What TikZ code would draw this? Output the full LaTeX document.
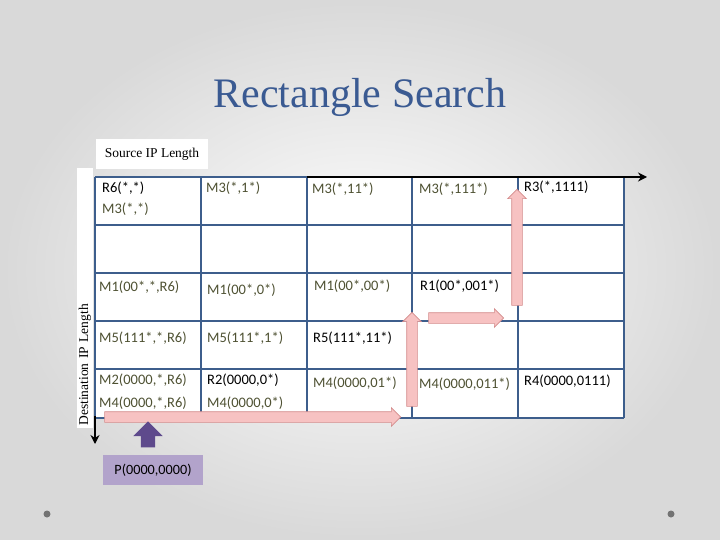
\documentclass[tikz,border=0pt]{standalone}
\usepackage{fontspec}
\setmainfont{Liberation Serif}
\newfontfamily\cellfont{Carlito}
\usetikzlibrary{arrows.meta,shapes.arrows}
\definecolor{TitleBlue}{HTML}{3A5A92}
\definecolor{GridBlue}{HTML}{3D5E8C}
\definecolor{MatchOlive}{HTML}{4F5233}
\definecolor{PathPink}{HTML}{F7C2C2}
\definecolor{PathEdge}{HTML}{D48C8C}
\definecolor{PointPurple}{HTML}{5E4A8C}
\definecolor{PointBg}{HTML}{B2A3CB}

\begin{document}
\begin{tikzpicture}[
        x=1pt, y=-1pt,
        cell/.style={
            anchor=base west,
            inner sep=0pt,
            font=\cellfont\fontsize{14.5}{17}\selectfont
        },
        rule/.style={cell, text=black},
        match/.style={cell, text=MatchOlive},
        gridline/.style={draw=GridBlue, line width=2.4pt},
        axis/.style={-{Stealth[length=9pt,width=9pt]}, line width=1.8pt, draw=black},
        axislabel/.style={fill=white, font=\fontsize{13.5}{16}\selectfont},
        walk/.style={
            single arrow,
            draw=PathEdge,
            fill=PathPink,
            line width=0.6pt,
            inner sep=5pt,
            single arrow head extend=4pt,
            single arrow tip angle=90
        },
        pointer/.style={
            single arrow,
            fill=PointPurple,
            inner sep=7pt,
            single arrow head extend=7.5pt,
            single arrow tip angle=90
        }
    ]
        \useasboundingbox (0,0) rectangle (720,540);
        \shade[inner color=white, outer color=black!15] (0,0) rectangle (720,540);

        \node[font=\fontsize{42}{48}\selectfont, text=TitleBlue] (title) at (360,97)
            {Rectangle Search};

        \node[axislabel, minimum width=112pt, minimum height=30pt] (srclabel) at (152,154)
            {Source IP Length};
        \node[axislabel, rotate=90, text width=255pt, align=left, inner sep=2pt] (dstlabel) at (85,298)
            {Destination IP Length};

        \fill[white] (95,177) rectangle (624,418);
        \foreach \x in {95,201,307,412,518,624}
            \draw[gridline] (\x,177) -- (\x,418);
        \foreach \y in {177,225,273,321,369,418}
            \draw[gridline] (95,\y) -- (624,\y);

        \coordinate (topstart) at (307,177);
        \coordinate (xend) at (647,177);
        \coordinate (leftstart) at (95,416);
        \coordinate (yend) at (95,444);
        \draw[axis] (topstart) -- (xend);
        \draw[axis] (leftstart) -- (yend);

        \node[rule] (c11a) at (102,193) {R6(*,*)};
        \node[match] (c11b) at (102,214) {M3(*,*)};
        \node[match] (c12) at (206,193) {M3(*,1*)};
        \node[match] (c13) at (312,194) {M3(*,11*)};
        \node[match] (c14) at (419,194) {M3(*,111*)};
        \node[rule] (c15) at (524,192) {R3(*,1111)};

        \node[match] (c31) at (99,291) {M1(00*,*,R6)};
        \node[match] (c32) at (207,294) {M1(00*,0*)};
        \node[match] (c33) at (314,290) {M1(00*,00*)};
        \node[rule] (c34) at (420,290) {R1(00*,001*)};

        \node[match] (c41) at (99,342) {M5(111*,*,R6)};
        \node[match] (c42) at (207,342) {M5(111*,1*)};
        \node[rule] (c43) at (313,342) {R5(111*,11*)};

        \node[match] (c51a) at (99,384) {M2(0000,*,R6)};
        \node[match] (c51b) at (99,407) {M4(0000,*,R6)};
        \node[rule] (c52a) at (207,384) {R2(0000,0*)};
        \node[match] (c52b) at (207,407) {M4(0000,0*)};
        \node[match] (c53) at (313,387) {M4(0000,01*)};
        \node[match] (c54) at (419,388) {M4(0000,011*)};
        \node[rule] (c55) at (524,385) {R4(0000,0111)};

        \node[walk, minimum height=296pt] (walk1) at (250,417) {};
        \node[walk, minimum height=94pt, rotate=90] (walk2) at (412,362) {};
        \node[walk, minimum height=75pt] (walk3) at (463.5,318) {};
        \node[walk, minimum height=116pt, rotate=90] (walk4) at (517,250) {};

        \node[fill=PointBg, minimum width=100pt, minimum height=30pt,
            font=\cellfont\fontsize{14.2}{17}\selectfont] (point) at (153,470)
            {P(0000,0000)};
        \node[pointer, minimum height=26pt, rotate=90] (pointarrow) at (148,438) {};

        \fill[black!55] (47,514) circle (3.5);
        \fill[black!55] (671,514) circle (3.5);
    \end{tikzpicture}
\end{document}
